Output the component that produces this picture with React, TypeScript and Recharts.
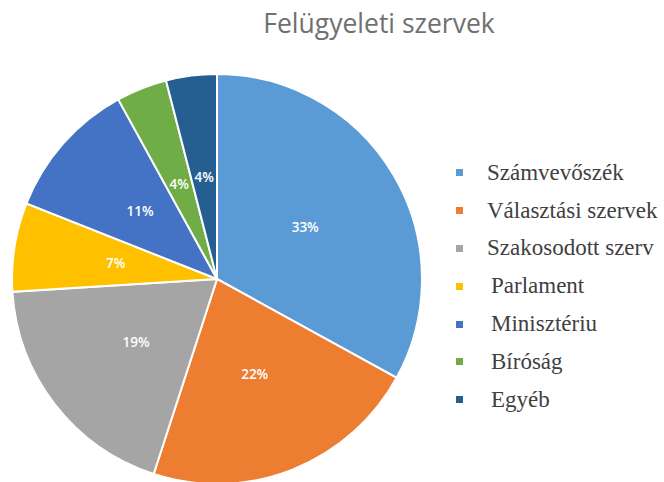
import React from "react";
import { PieChart, Pie, Cell, Legend } from "recharts";

const categories = [
  "Számvevőszék",
  "Választási szervek",
  "Szakosodott szerv",
  "Parlament",
  "Minisztériu",
  "Bíróság",
  "Egyéb",
];
const shares = [33, 22, 19, 7, 11, 4, 4];
const colors = ["#5B9BD5", "#ED7D31", "#A5A5A5", "#FFC000", "#4472C4", "#70AD47", "#255E91"];

const data = categories.map((name, i) => ({ name, value: shares[i] }));

const RAD = Math.PI / 180;

const renderLabel = (props: any) => {
  const { cx, cy, midAngle, outerRadius, value } = props;
  const r = outerRadius * 0.5;
  const x = cx + r * Math.cos(-midAngle * RAD);
  const y = cy + r * Math.sin(-midAngle * RAD);
  return (
    <text
      x={x}
      y={y}
      fill="#ffffff"
      textAnchor="middle"
      dominantBaseline="central"
      fontFamily="'Open Sans', sans-serif"
      fontSize={13.5}
      fontWeight={600}
    >
      {value}%
    </text>
  );
};

// legend built from our own arrays so the order stays as in the data
const renderLegend = () => (
  <div>
    {categories.map((name, i) => (
      <div key={name} style={{ display: "flex", alignItems: "center", height: 37.8 }}>
        <div
          style={{
            width: 7,
            height: 7,
            flexShrink: 0,
            background: colors[i],
            marginRight: i < 3 ? 24 : 28,
          }}
        />
        <span
          style={{
            fontFamily: "'Liberation Serif', 'Times New Roman', serif",
            fontSize: 23,
            color: "#404040",
            whiteSpace: "nowrap",
          }}
        >
          {name}
        </span>
      </div>
    ))}
  </div>
);

export default function App() {
  return (
    <div style={{ position: "absolute", left: 0, top: 0, width: 664, height: 482, background: "#fff" }}>
      <div
        style={{
          position: "absolute",
          left: 0,
          top: 5,
          width: 758,
          textAlign: "center",
          fontFamily: "'Open Sans', sans-serif",
          fontSize: 26.5,
          color: "#707070",
          zIndex: 2,
        }}
      >
        Felügyeleti szervek
      </div>
      <PieChart width={664} height={482}>
        <Pie
          data={data}
          dataKey="value"
          nameKey="name"
          cx={212}
          cy={274}
          outerRadius={205}
          startAngle={90}
          endAngle={-270}
          stroke="#ffffff"
          strokeWidth={2}
          label={renderLabel}
          labelLine={false}
          isAnimationActive={false}
        >
          {data.map((d, i) => (
            <Cell key={d.name} fill={colors[i]} />
          ))}
        </Pie>
        <Legend
          layout="vertical"
          align="right"
          verticalAlign="top"
          content={renderLegend}
          wrapperStyle={{ left: 456, top: 154, width: 208 }}
        />
      </PieChart>
    </div>
  );
}
